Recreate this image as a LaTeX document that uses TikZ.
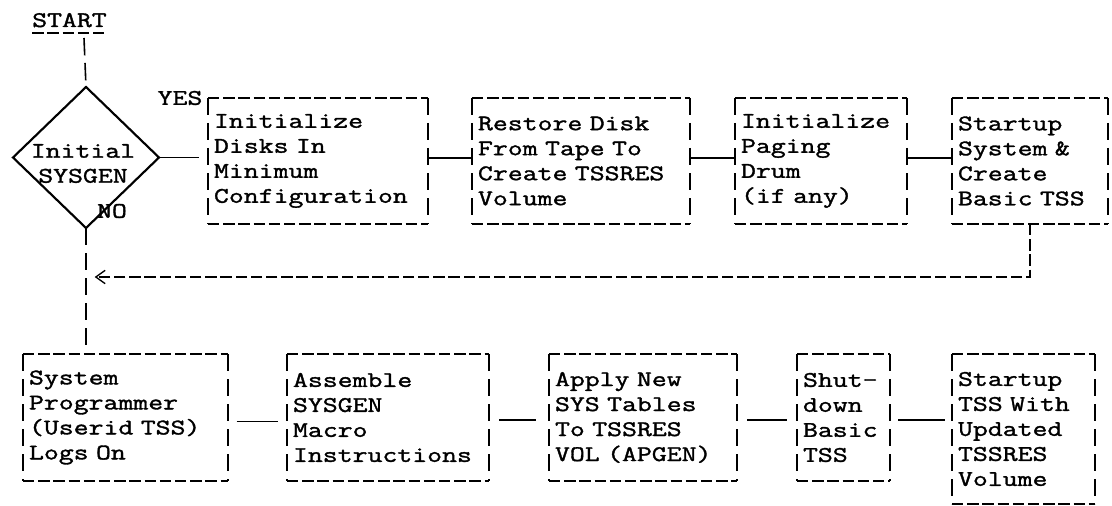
\documentclass[tikz,border=0pt]{standalone}
\usepackage{fontspec}
\newfontfamily\tw[FakeStretch=1.3,FakeBold=1.5]{Latin Modern Mono}
\usetikzlibrary{shapes.geometric,arrows.meta}
\begin{document}
\begin{tikzpicture}[x=0.75pt,y=-0.75pt,
  txt/.style={font=\tw\fontsize{16.7pt}{18.75pt}\selectfont, inner sep=0pt, outer sep=0pt},
  box/.style={txt, align=left, inner xsep=4.5pt, inner ysep=0pt},
  hdash/.style={line width=1.2pt, dash pattern=on 8.6pt off 2.8pt},
  vdash/.style={line width=1.2pt, dash pattern=on 13pt off 5.75pt},
  link/.style={line width=1.1pt},
  fb/.style={line width=1.1pt, dash pattern=on 8.6pt off 2.8pt,
    -{Straight Barb[length=7pt,width=10pt,line width=1pt]}}
]
\useasboundingbox (0,0) rectangle (1112,506);

% start and decision
\node[txt, anchor=base] (start) at (69.5,27) {START};
\draw[hdash] ([yshift=-4.5pt]start.base west) -- ([yshift=-4.5pt]start.base east);
\coordinate (st) at (84,38);
\node[diamond, draw, line width=1.6pt, minimum width=109.5pt, minimum height=105.75pt,
      inner sep=0pt, outer sep=0pt] (dia) at (86,157.5) {};
\node[txt, align=center] (init) at (83,163.5) {Initial\\SYSGEN};
\node[txt] (yes) at (180,98) {YES};
\node[txt] (no) at (112,211) {NO};

% top row
\node[box, text width=156pt, minimum height=94.5pt] (b1) at (318,161)
  {Initialize\\Disks In\\Minimum\\Configuration};
\node[box, text width=154.5pt, minimum height=94.5pt] (b2) at (581,161)
  {Restore Disk\\From Tape To\\Create TSSRES\\Volume};
\node[box, text width=120pt, minimum height=94.5pt] (b3) at (821,161)
  {Initialize\\Paging\\Drum\\(if any)};
\node[box, text width=108pt, minimum height=94.5pt] (b4) at (1030,161)
  {Startup\\System \&\\Create\\Basic TSS};

% bottom row
\node[box, text width=144.75pt, minimum height=95.25pt] (b5) at (125.5,417.5)
  {System\\Programmer\\(Userid TSS)\\Logs On};
\node[box, text width=142.5pt, minimum height=95.25pt] (b6) at (388,417.5)
  {Assemble\\SYSGEN\\Macro\\Instructions};
\node[box, text width=132pt, minimum height=95.25pt] (b7) at (643,417.5)
  {Apply New\\SYS Tables\\To TSSRES\\VOL (APGEN)};
\node[box, text width=60.75pt, minimum height=95.25pt] (b8) at (843.5,417.5)
  {Shut-\\down\\Basic\\TSS};
\node[box, text width=98.25pt, minimum height=112.5pt] (b9) at (1023.5,429)
  {Startup\\TSS With\\Updated\\TSSRES\\Volume};

% typewriter-style box outlines
\foreach \n in {b1,b2,b3,b4,b5,b6,b7,b8,b9}{
  \draw[hdash] (\n.north west) -- (\n.north east) (\n.south west) -- (\n.south east);
  \draw[vdash] (\n.north west) -- (\n.south west) (\n.north east) -- (\n.south east);
}

% connectors
\draw[vdash] (st) -- (dia.north);
\draw[link, shorten >=7pt] (dia.east) -- (dia.east -| b1.west);
\draw[link] ([yshift=2.25pt]b1.east) -- ([yshift=2.25pt]b2.west);
\draw[link] ([yshift=2.25pt]b2.east) -- ([yshift=2.25pt]b3.west);
\draw[link] ([yshift=2.25pt]b3.east) -- ([yshift=2.25pt]b4.west);
\draw[vdash] (dia.south) -- (dia.south |- b5.north);
\coordinate (fbend) at (86,277);
\draw[fb, shorten >=6.5pt] (b4.south) |- (fbend);
\draw[link, shorten <=6.5pt, shorten >=6.5pt] ([yshift=-3pt]b5.east) -- ([yshift=-3pt]b6.west);
\draw[link, shorten <=7.5pt, shorten >=10pt] ([yshift=-1.9pt]b6.east) -- ([yshift=-1.9pt]b7.west);
\draw[link, shorten <=7.5pt, shorten >=7.5pt] ([yshift=-1.9pt]b7.east) -- ([yshift=-1.9pt]b8.west);
\coordinate (c89) at ([yshift=-1.9pt]b8.east);
\draw[link, shorten <=6pt, shorten >=5.5pt] (c89) -- (c89 -| b9.west);
\end{tikzpicture}
\end{document}
